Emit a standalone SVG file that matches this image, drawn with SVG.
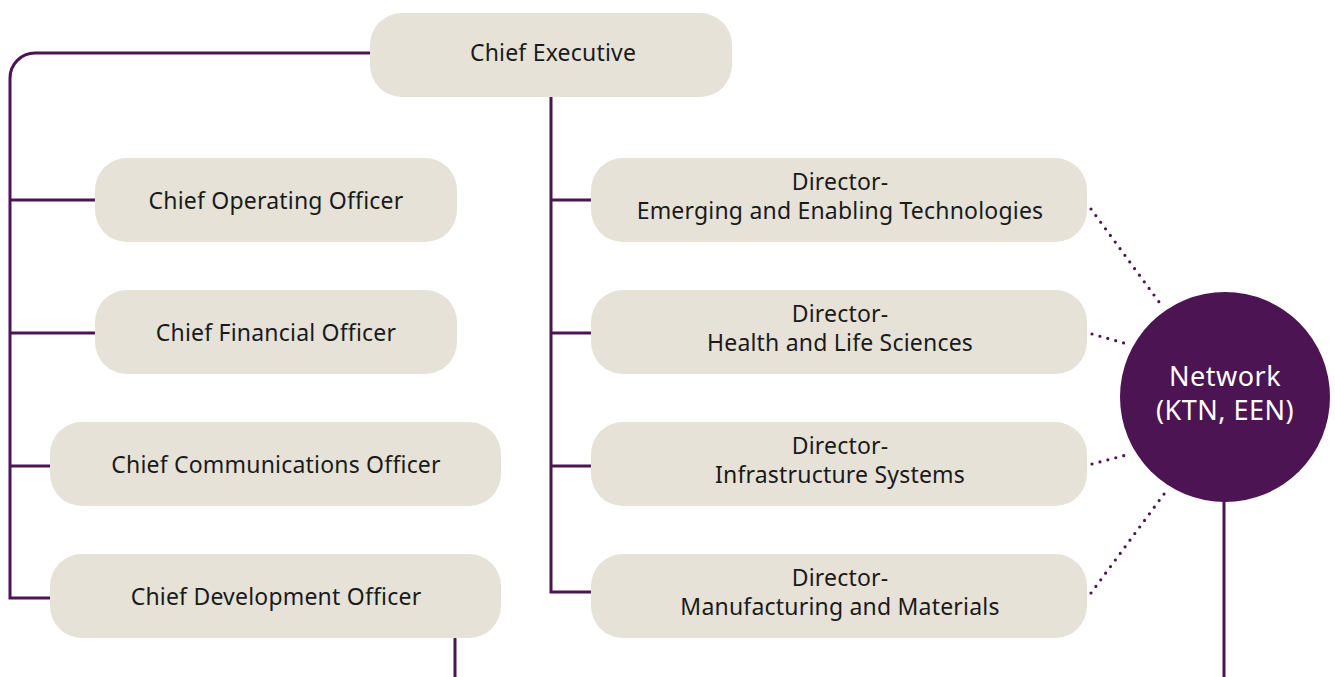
<svg xmlns="http://www.w3.org/2000/svg" width="1335" height="677" viewBox="0 0 1335 677">
<style>
.box{fill:#e6e2d7}
.t{font-family:"Noto Sans","Open Sans",sans-serif;font-size:23px;letter-spacing:0.2px;fill:#1a1a1a;text-anchor:middle}
.ln{fill:none;stroke:#4c1452;stroke-width:3}
.dot{fill:none;stroke:#4c1452;stroke-width:3.2;stroke-linecap:round;stroke-dasharray:0 8.2}
.ct{font-family:"Noto Sans","Open Sans",sans-serif;font-size:27px;letter-spacing:0.5px;fill:#ffffff;text-anchor:middle}
</style>
<rect width="1335" height="677" fill="#ffffff"/>
<g id="connectors">
<path class="ln" d="M370 53 H35 A25 25 0 0 0 10 78 V598 H50"/>
<path class="ln" d="M10 200 H95 M10 333 H95 M10 466 H50"/>
<path class="ln" d="M551 97 V592 H591 M551 200 H591 M551 333 H591 M551 466 H591"/>
<path class="ln" d="M455 638 V677"/>
<path class="ln" d="M1224 500 V677"/>
<path class="dot" d="M1091 209 L1162 306"/>
<path class="dot" d="M1092 334 L1131 345"/>
<path class="dot" d="M1092 464 L1130 454"/>
<path class="dot" d="M1091 593 L1167 490"/>
</g>
<g id="ceo"><rect class="box" x="370" y="13" width="362" height="84" rx="32"/><text class="t" x="553" y="61">Chief Executive</text></g>
<g id="coo"><rect class="box" x="95" y="158" width="362" height="84" rx="32"/><text class="t" x="276" y="209">Chief Operating Officer</text></g>
<g id="cfo"><rect class="box" x="95" y="290" width="362" height="84" rx="32"/><text class="t" x="276" y="341">Chief Financial Officer</text></g>
<g id="cco"><rect class="box" x="50" y="422" width="451" height="84" rx="32"/><text class="t" x="276" y="473">Chief Communications Officer</text></g>
<g id="cdo"><rect class="box" x="50" y="554" width="451" height="84" rx="32"/><text class="t" x="276" y="605">Chief Development Officer</text></g>
<g id="d1"><rect class="box" x="591" y="158" width="496" height="84" rx="32"/><text class="t" x="840" y="190">Director-</text><text class="t" x="840" y="219">Emerging and Enabling Technologies</text></g>
<g id="d2"><rect class="box" x="591" y="290" width="496" height="84" rx="32"/><text class="t" x="840" y="322">Director-</text><text class="t" x="840" y="351">Health and Life Sciences</text></g>
<g id="d3"><rect class="box" x="591" y="422" width="496" height="84" rx="32"/><text class="t" x="840" y="454">Director-</text><text class="t" x="840" y="483">Infrastructure Systems</text></g>
<g id="d4"><rect class="box" x="591" y="554" width="496" height="84" rx="32"/><text class="t" x="840" y="586">Director-</text><text class="t" x="840" y="615">Manufacturing and Materials</text></g>
<g id="network"><circle cx="1225" cy="397" r="105" fill="#4c1452"/><text class="ct" x="1225" y="386">Network</text><text class="ct" x="1225" y="420">(KTN, EEN)</text></g>
</svg>
